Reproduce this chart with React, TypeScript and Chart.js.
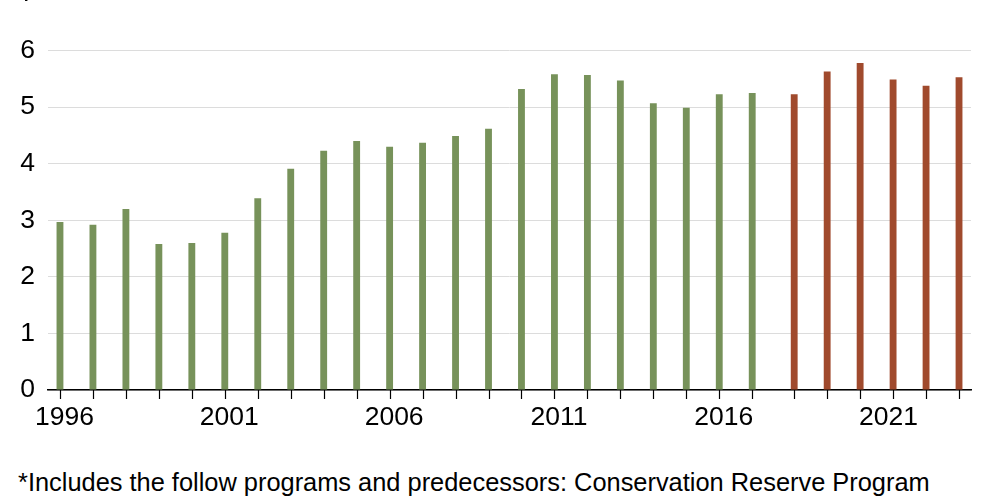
import React, { useEffect, useRef } from "react";
import { Chart, registerables } from "chart.js";

Chart.register(...registerables);

const years: string[] = [
  "1996", "1997", "1998", "1999", "2000", "2001", "2002", "2003", "2004", "2005",
  "2006", "2007", "2008", "2009", "2010", "2011", "2012", "2013", "2014", "2015",
  "2016", "2017", "2018", "2019", "2020", "2021", "2022", "2023",
];

const actualValues: (number | null)[] = [
  2.97, 2.92, 3.2, 2.58, 2.6, 2.78, 3.39, 3.91, 4.23, 4.4,
  4.3, 4.37, 4.49, 4.62, 5.32, 5.58, 5.57, 5.47, 5.07, 4.99,
  5.23, 5.25, null, null, null, null, null, null,
];

const projectedValues: (number | null)[] = [
  null, null, null, null, null, null, null, null, null, null,
  null, null, null, null, null, null, null, null, null, null,
  null, null, 5.23, 5.63, 5.78, 5.49, 5.38, 5.53,
];

const labeledYears: string[] = ["1996", "2001", "2006", "2011", "2016", "2021"];

const footnote =
  "*Includes the follow programs and predecessors: Conservation Reserve Program";

const FONT = "'Liberation Sans', Arial, Helvetica, sans-serif";

const tickMarksPlugin = {
  id: "barTickMarks",
  afterDraw(chart: any) {
    const ctx = chart.ctx;
    const bottom = chart.chartArea.bottom;
    ctx.save();
    ctx.strokeStyle = "#000";
    ctx.lineWidth = 1.2;
    for (let i = 0; i < years.length; i++) {
      let x: number | null = null;
      chart.data.datasets.forEach((ds: any, di: number) => {
        if (ds.data[i] !== null && ds.data[i] !== undefined) {
          const el = chart.getDatasetMeta(di).data[i];
          if (el) x = el.x;
        }
      });
      if (x !== null) {
        ctx.beginPath();
        ctx.moveTo(Math.round(x) + 0.5, bottom);
        ctx.lineTo(Math.round(x) + 0.5, bottom + 9);
        ctx.stroke();
      }
    }
    ctx.restore();
  },
};

export default function App() {
  const canvasRef = useRef<HTMLCanvasElement | null>(null);

  useEffect(() => {
    if (!canvasRef.current) return;
    const chart = new Chart(canvasRef.current, {
      type: "bar",
      data: {
        labels: years,
        datasets: [
          {
            label: "Actual",
            data: actualValues,
            backgroundColor: "#77925a",
            categoryPercentage: 0.547,
            barPercentage: 0.76,
          },
          {
            label: "Projected",
            data: projectedValues,
            backgroundColor: "#a04a2d",
            categoryPercentage: 0.547,
            barPercentage: 0.76,
          },
        ],
      },
      options: {
        animation: false,
        responsive: true,
        maintainAspectRatio: false,
        layout: { padding: { top: 34, right: 29, left: 0, bottom: 0 } },
        plugins: {
          legend: { display: false },
          tooltip: { enabled: false },
          title: { display: false },
        },
        scales: {
          x: {
            grid: { display: false, drawTicks: false },
            border: { display: true, color: "#000", width: 1.5 },
            ticks: {
              autoSkip: false,
              maxRotation: 0,
              minRotation: 0,
              padding: 12,
              color: "#000",
              font: { family: FONT, size: 26.5 },
              callback: (_v: any, idx: number) =>
                labeledYears.includes(years[idx]) ? years[idx] : "",
            },
            afterFit: (scale: any) => {
              scale.height = 70;
            },
          },
          y: {
            min: 0,
            max: 7,
            grid: { color: "#dcdcdc", lineWidth: 1, drawTicks: false },
            border: { display: false },
            ticks: {
              stepSize: 1,
              padding: 13,
              color: "#000",
              font: { family: FONT, size: 26.5 },
            },
            afterFit: (scale: any) => {
              scale.width = 48;
            },
          },
        },
      },
      plugins: [tickMarksPlugin],
    });
    return () => chart.destroy();
  }, []);

  return (
    <div
      style={{
        position: "fixed",
        left: 0,
        top: 0,
        width: 1000,
        height: 500,
        overflow: "hidden",
        background: "#fff",
      }}
    >
      <div style={{ position: "absolute", left: 0, top: -40, width: 1000, height: 500 }}>
        <canvas ref={canvasRef} />
      </div>
      <div
        style={{
          position: "absolute",
          left: 18,
          top: 468,
          fontFamily: FONT,
          fontSize: 25.4,
          lineHeight: "28px",
          color: "#000",
          whiteSpace: "nowrap",
        }}
      >
        {footnote}
      </div>
    </div>
  );
}
